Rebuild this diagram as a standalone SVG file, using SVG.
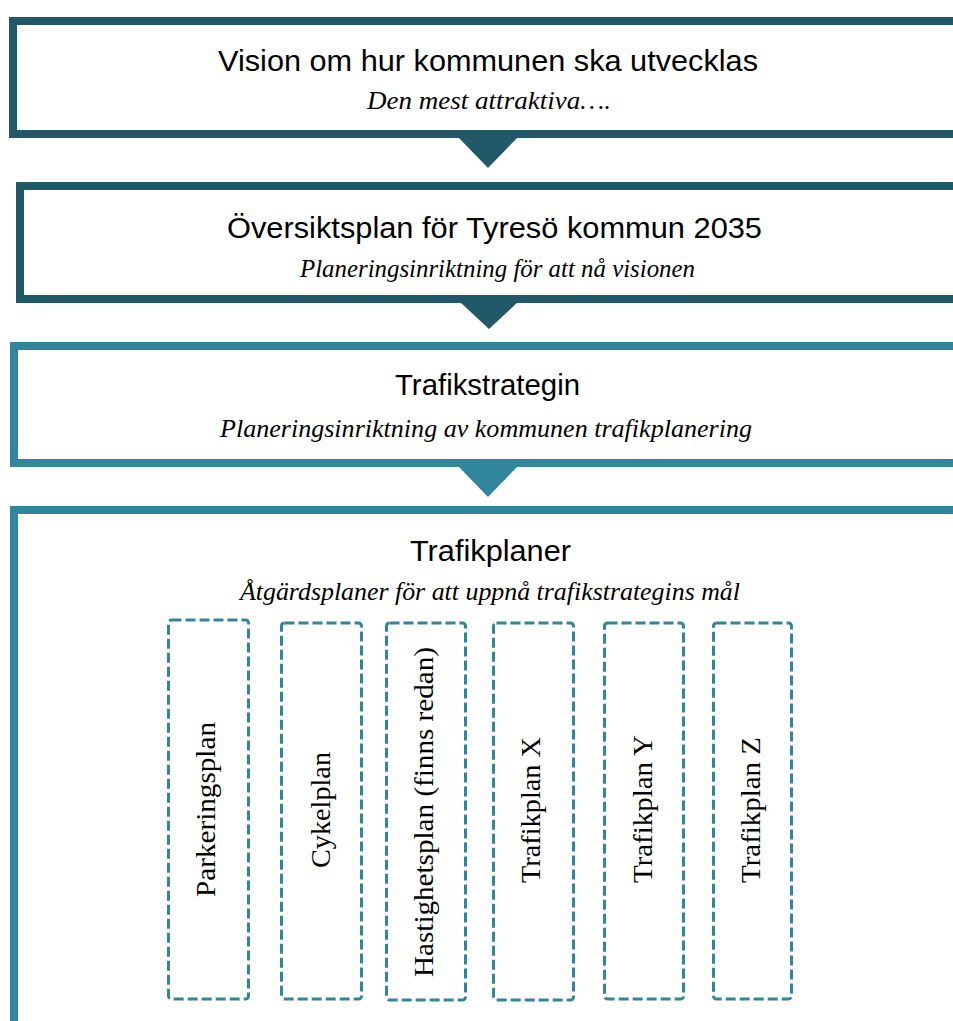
<svg xmlns="http://www.w3.org/2000/svg" width="953" height="1021" viewBox="0 0 953 1021">
<style>
.bg{fill:#ffffff}
.dark{fill:none;stroke:#215968;stroke-width:8}
.light{fill:none;stroke:#31859C;stroke-width:8}
.tri-dark{fill:#215968}
.tri-light{fill:#31859C}
.title{font-family:"Liberation Sans",Arial,sans-serif;font-size:29px;fill:#000}
.sub{font-family:"Liberation Serif","Times New Roman",serif;font-style:italic;font-size:25px;fill:#000}
.plan{fill:none;stroke:#31859C;stroke-width:3;stroke-dasharray:10 4}
.vt{font-family:"Liberation Serif","Times New Roman",serif;font-size:28px;fill:#000}
</style>
<rect class="bg" x="0" y="0" width="953" height="1021"/>
<g id="vision">
<rect class="dark" x="13" y="21" width="1000" height="113"/>
<text class="title" x="218" y="71" textLength="540" lengthAdjust="spacingAndGlyphs">Vision om hur kommunen ska utvecklas</text>
<text class="sub" x="367" y="109" textLength="244" lengthAdjust="spacingAndGlyphs">Den mest attraktiva….</text>
</g>
<g id="oversiktsplan">
<rect class="dark" x="20" y="186" width="1000" height="113"/>
<text class="title" x="227" y="238" textLength="535" lengthAdjust="spacingAndGlyphs">Översiktsplan för Tyresö kommun 2035</text>
<text class="sub" x="300" y="277" textLength="395" lengthAdjust="spacingAndGlyphs">Planeringsinriktning för att nå visionen</text>
</g>
<g id="trafikstrategin">
<rect class="light" x="14" y="346" width="1000" height="117"/>
<text class="title" x="395" y="395" textLength="185" lengthAdjust="spacingAndGlyphs">Trafikstrategin</text>
<text class="sub" x="220" y="437" textLength="532" lengthAdjust="spacingAndGlyphs">Planeringsinriktning av kommunen trafikplanering</text>
</g>
<g id="trafikplaner">
<rect class="light" x="14" y="510" width="1000" height="540"/>
<text class="title" x="410" y="561" textLength="161" lengthAdjust="spacingAndGlyphs">Trafikplaner</text>
<text class="sub" x="240" y="600" textLength="500" lengthAdjust="spacingAndGlyphs">Åtgärdsplaner för att uppnå trafikstrategins mål</text>
</g>
<g id="connectors">
<polygon class="tri-dark" points="458,137 518,137 488,168"/>
<polygon class="tri-dark" points="460,302 518,302 489,329"/>
<polygon class="tri-light" points="458,466 518,466 488,497"/>
</g>
<g id="parkeringsplan">
<rect class="plan" x="168.5" y="620" width="80" height="379" rx="3"/>
<text class="vt" transform="translate(215,897) rotate(-90)" textLength="175" lengthAdjust="spacingAndGlyphs">Parkeringsplan</text>
</g>
<g id="cykelplan">
<rect class="plan" x="281.5" y="623" width="80" height="376" rx="3"/>
<text class="vt" transform="translate(330,868) rotate(-90)" textLength="116" lengthAdjust="spacingAndGlyphs">Cykelplan</text>
</g>
<g id="hastighetsplan">
<rect class="plan" x="386.5" y="623" width="79" height="377" rx="3"/>
<text class="vt" transform="translate(433,977) rotate(-90)" textLength="330" lengthAdjust="spacingAndGlyphs">Hastighetsplan (finns redan)</text>
</g>
<g id="trafikplan-x">
<rect class="plan" x="493.5" y="623" width="80" height="377" rx="3"/>
<text class="vt" transform="translate(540,883) rotate(-90)" textLength="146" lengthAdjust="spacingAndGlyphs">Trafikplan X</text>
</g>
<g id="trafikplan-y">
<rect class="plan" x="604.5" y="623" width="79" height="376" rx="3"/>
<text class="vt" transform="translate(652,883) rotate(-90)" textLength="148" lengthAdjust="spacingAndGlyphs">Trafikplan Y</text>
</g>
<g id="trafikplan-z">
<rect class="plan" x="713.5" y="623" width="78" height="376" rx="3"/>
<text class="vt" transform="translate(760,883) rotate(-90)" textLength="146" lengthAdjust="spacingAndGlyphs">Trafikplan Z</text>
</g>
</svg>
